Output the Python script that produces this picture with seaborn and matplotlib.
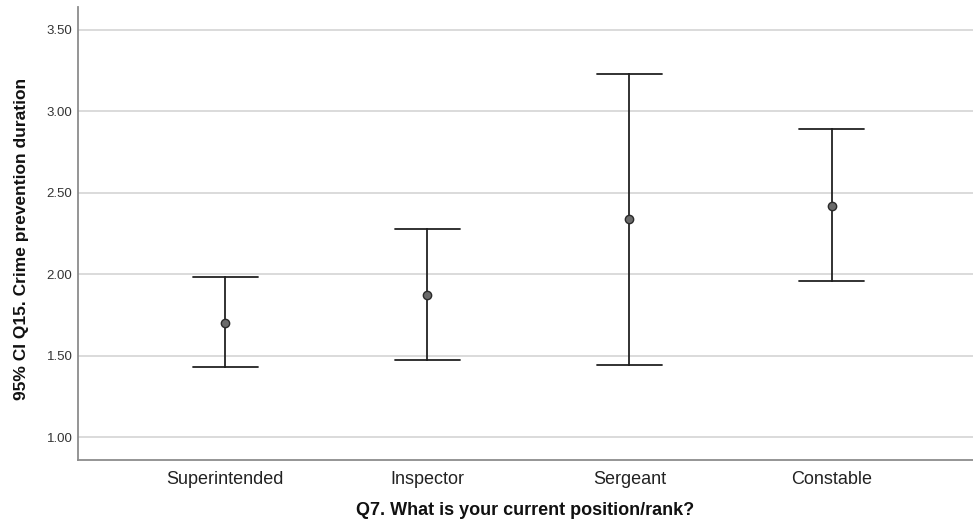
import numpy as np
import pandas as pd
import matplotlib
matplotlib.use("Agg")
import matplotlib.pyplot as plt
import seaborn as sns

# Group means with 95% confidence limits
ranks = ["Superintended", "Inspector", "Sergeant", "Constable"]
means = [1.70, 1.87, 2.34, 2.42]
ci_low = [1.43, 1.47, 1.44, 1.96]
ci_high = [1.98, 2.28, 3.23, 2.89]
y_ticks = [1.00, 1.50, 2.00, 2.50, 3.00, 3.50]

# Long table: each rank holds its lower limit, mean and upper limit;
# the median gives the mean and min/max give the interval
rows = []
for r, lo, m, hi in zip(ranks, ci_low, means, ci_high):
    for v in (lo, m, hi):
        rows.append({"rank": r, "value": v})
df = pd.DataFrame(rows)

sns.set_theme(style="white")
plt.rcParams["font.family"] = ["Liberation Sans", "DejaVu Sans"]

fig = plt.figure(figsize=(9.73, 5.22), dpi=100)
ax = fig.add_axes([0.0802, 0.1188, 0.9198, 0.8678])

sns.pointplot(
    data=df, x="rank", y="value", order=ranks,
    estimator=np.median,
    errorbar=lambda v: (np.min(v), np.max(v)),
    linestyle="none", capsize=0.32,
    color="#222222",
    err_kws={"linewidth": 1.3, "color": "#222222"},
    markers="o", markersize=6,
    ax=ax,
)

# grey filled points with a dark rim
for ln in ax.lines:
    if ln.get_marker() == "o":
        ln.set_markerfacecolor("#6a6a6a")
        ln.set_markeredgecolor("#2a2a2a")
        ln.set_markeredgewidth(1.0)
        ln.set_zorder(5)

ax.set_xlim(-0.728, 3.70)
ax.set_ylim(0.859, 3.641)
ax.set_yticks(y_ticks)
ax.set_yticklabels([f"{t:.2f}" for t in y_ticks])
ax.yaxis.grid(True, color="#d4d4d4", linewidth=1.2)
ax.set_axisbelow(True)

for side in ("top", "right"):
    ax.spines[side].set_visible(False)
for side in ("left", "bottom"):
    ax.spines[side].set_color("#8c8c8c")
    ax.spines[side].set_linewidth(1.3)

ax.tick_params(axis="y", length=0, pad=4, labelsize=9.5, labelcolor="#333333")
ax.tick_params(axis="x", length=0, pad=8, labelsize=13, labelcolor="#222222")

ax.set_xlabel("Q7. What is your current position/rank?", fontsize=13,
              fontweight="bold", color="#111111", labelpad=10)
ax.set_ylabel("95% CI Q15. Crime prevention duration", fontsize=12.5,
              fontweight="bold", color="#111111")
ax.yaxis.set_label_coords(-0.055, 0.488)

fig.savefig("out.png", dpi=100)
